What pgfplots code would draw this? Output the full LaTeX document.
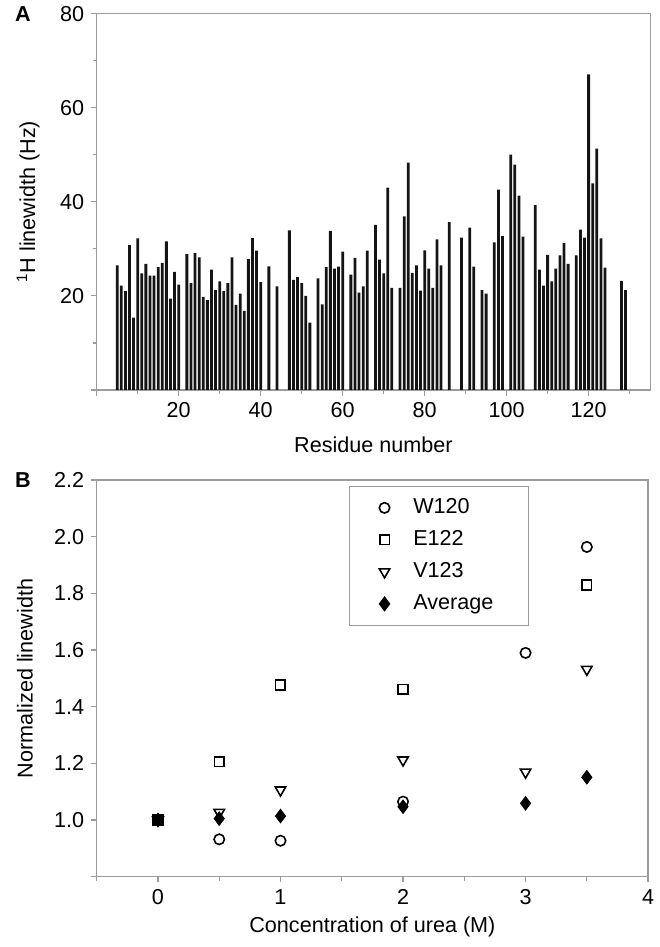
\documentclass[border=0pt]{standalone}
\usepackage{fontspec}
\setmainfont{Liberation Sans}
\usepackage{pgfplots}
\usepackage{pgfplotstable}
\pgfplotsset{compat=1.18}
\definecolor{AxisGray}{HTML}{9C9C9C}

% residue, 1H linewidth (Hz)
\pgfplotstableread{
res val
5 26.5
6 22.2
7 21.0
8 30.8
9 15.4
10 32.2
11 24.8
12 26.8
13 24.3
14 24.3
15 26.1
16 27.0
17 31.6
18 19.4
19 25.1
20 22.4
22 28.9
23 22.7
24 29.1
25 28.2
26 19.8
27 19.1
28 25.6
29 21.2
30 23.1
31 21.0
32 22.7
33 28.2
34 18.1
35 20.5
36 16.8
37 27.8
38 32.3
39 29.6
40 22.9
42 26.3
44 22.0
47 33.9
48 23.4
49 24.0
50 22.7
51 20.0
52 14.3
54 23.7
55 18.2
56 26.1
57 33.8
58 25.8
59 26.2
60 29.4
62 24.5
63 28.1
64 20.7
65 22.0
66 29.6
68 35.1
69 27.7
70 24.8
71 43.0
72 21.7
74 21.7
75 36.9
76 48.3
77 24.9
78 26.5
79 21.1
80 29.7
81 25.8
82 21.7
83 32.0
84 26.5
86 35.7
89 32.4
91 34.5
92 26.2
94 21.2
95 20.5
97 31.4
98 42.6
99 32.7
101 50.0
102 47.9
103 41.3
104 32.6
107 39.3
108 25.6
109 22.2
110 28.7
111 23.1
112 25.8
113 28.6
114 31.2
115 26.8
117 28.6
118 34.1
119 32.4
120 67.1
121 43.9
122 51.3
123 32.2
124 26.0
128 23.2
129 21.2
}\widths

\pgfplotstableread{
x w120 e122 v123 avg
0   1.000 1.000 1.000 1.000
0.5 0.932 1.206 1.027 1.005
1   0.927 1.477 1.106 1.014
2   1.065 1.461 1.212 1.047
3   1.590 nan   1.169 1.059
3.5 1.964 1.830 1.532 1.151
}\urea

\newcommand{\figfont}{\fontsize{10.8}{12}\selectfont}

\begin{document}
\begin{tikzpicture}
\useasboundingbox (0,0) rectangle (329.5pt,473.5pt);
\pgfplotsset{
  panel/.style={
    scale only axis,
    anchor=south west,
    axis line style={AxisGray, line width=0.6pt},
    every tick/.style={AxisGray, line width=0.6pt},
    tick align=outside,
    major tick length=2.8pt,
    minor tick length=2pt,
    xtick pos=bottom,
    ytick pos=left,
    tick label style={font=\figfont, /pgf/number format/assume math mode=true},
    label style={font=\figfont},
    extra tick style={tick label style={opacity=0}},
  }
}

\begin{axis}[panel,
  at={(48.35pt,278.5pt)}, width=276.7pt, height=188.2pt,
  xmin=0, xmax=135, ymin=0, ymax=80,
  ybar, bar width=0.68,
  xtick={20,40,...,120}, minor xtick={10,30,...,130},
  ytick={20,40,60,80}, minor ytick={10,30,50,70},
  extra x ticks={0}, extra y ticks={0},
  xlabel={Residue number},
  ylabel={\textsuperscript{1}H linewidth (Hz)},
  xlabel style={at={(axis description cs:0.5,-0.146)}, anchor=center},
  ylabel style={at={(axis description cs:-0.124,0.5)}, anchor=center},
]
\addplot[fill=black!92, draw=none] table[x=res, y=val] {\widths};
\end{axis}

\begin{axis}[panel,
  at={(48.35pt,35.15pt)}, width=275.7pt, height=198.3pt,
  xmin=-0.5, xmax=4, ymin=0.8, ymax=2.2,
  xtick={0,1,2,3,4}, minor xtick={-0.5,0.5,1.5,2.5,3.5},
  ytick={1.0,1.2,1.4,1.6,1.8,2.0,2.2}, extra y ticks={0.8},
  yticklabel style={/pgf/number format/fixed, /pgf/number format/fixed zerofill, /pgf/number format/precision=1},
  xlabel={Concentration of urea (M)},
  ylabel={Normalized linewidth},
  xlabel style={at={(axis description cs:0.5,-0.127)}, anchor=center},
  ylabel style={at={(axis description cs:-0.130,0.5)}, anchor=center},
  legend style={at={(axis cs:1.56,2.18)}, anchor=north west,
    draw=AxisGray, line width=0.6pt, font=\figfont,
    inner xsep=8.5pt, inner ysep=5pt, row sep=4.5pt, column sep=4.5pt,
    nodes={inner sep=1pt, text height=7.5pt, text depth=2pt},
    /tikz/column 2/.style={text width=48pt}},
  legend cell align=left,
  legend image code/.code={\path (0pt,0pt) (17pt,0pt); \draw[#1] plot coordinates {(8.5pt,0pt)};},
]
\addplot[only marks, mark=o, mark size=2.6pt, black, line width=0.8pt] table[x=x, y=w120] {\urea};
\addlegendentry{W120}
\addplot[only marks, mark=square, mark size=2.4pt, black, line width=0.8pt] table[x=x, y=e122] {\urea};
\addlegendentry{E122}
\addplot[only marks, mark=triangle, mark size=3pt, mark options={rotate=180}, black, line width=0.8pt] table[x=x, y=v123] {\urea};
\addlegendentry{V123}
\addplot[only marks, mark=diamond*, mark size=3.4pt, black] table[x=x, y=avg] {\urea};
\addlegendentry{Average}
\end{axis}

\node[font=\figfont\bfseries] at (11.5pt,466.5pt) {A};
\node[font=\figfont\bfseries] at (11.5pt,233.5pt) {B};
\end{tikzpicture}
\end{document}
